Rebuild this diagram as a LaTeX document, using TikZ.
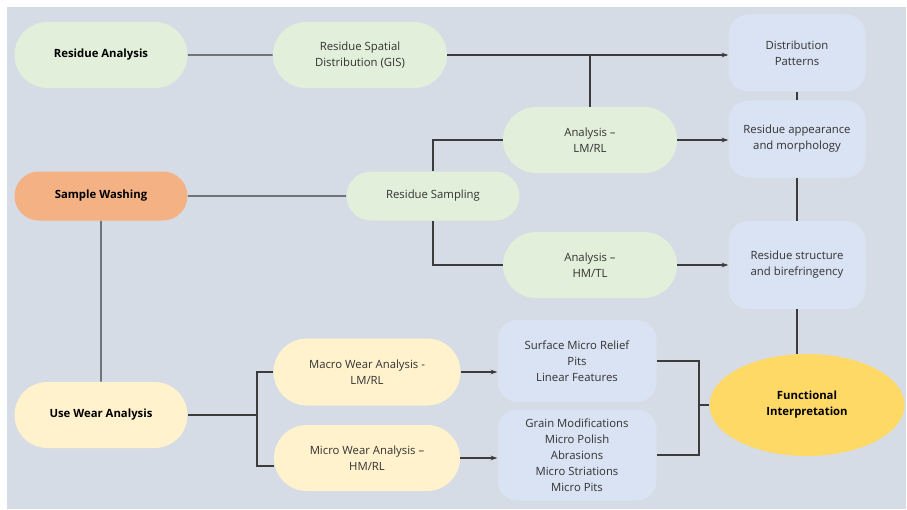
\documentclass[tikz,border=0pt]{standalone}
\usepackage{fontspec}
\setmainfont{Open Sans}
\usetikzlibrary{shapes.misc,shapes.geometric,arrows.meta,calc}
\definecolor{bgpanel}{RGB}{214,220,229}
\definecolor{gfill}{RGB}{226,239,218}
\definecolor{bfill}{RGB}{218,227,243}
\definecolor{yfill}{RGB}{255,242,204}
\definecolor{ofill}{RGB}{244,177,131}
\definecolor{gold}{RGB}{255,217,102}
\definecolor{linec}{RGB}{60,60,60}
\definecolor{txtc}{RGB}{50,50,50}
\def\u{0.75pt}
\tikzset{
  pill/.style={rounded rectangle, draw=none, inner sep=0pt, align=center,
    font=\fontsize{8.5}{12}\selectfont, text=txtc},
  boldpill/.style={pill, font=\fontsize{8.5}{12}\selectfont\bfseries, text=black},
  bluebox/.style={rectangle, rounded corners=15pt, draw=none, fill=bfill, inner sep=0pt,
    align=center, font=\fontsize{8.5}{12}\selectfont, text=txtc},
  conn/.style={draw=linec, line width=0.8pt},
  arr/.style={conn, -{Stealth[length=5pt,width=3.5pt]}},
}
\begin{document}
\begin{tikzpicture}[x=0.75pt,y=-0.75pt]
\useasboundingbox (0,0) rectangle (907,510);
\fill[white] (0,0) rectangle (907,510);
\fill[bgpanel] (7,7) rectangle (906,509);

% left column
\node[boldpill, fill=gfill, minimum width=173*\u, minimum height=66*\u] (RA) at (101,55) {Residue Analysis};
\node[boldpill, fill=ofill, minimum width=173*\u, minimum height=49*\u] (SW) at (101,196) {Sample Washing};
\node[boldpill, fill=yfill, minimum width=173*\u, minimum height=66*\u] (UWA) at (101,415) {Use Wear Analysis};

% residue branch
\node[pill, fill=gfill, minimum width=174*\u, minimum height=66*\u] (RSD) at (360,55) {Residue Spatial\\Distribution (GIS)};
\node[pill, fill=gfill, minimum width=173*\u, minimum height=49*\u] (RS) at (433,196) {Residue Sampling};
\node[pill, fill=gfill, minimum width=174*\u, minimum height=66*\u] (ALM) at (590,140) {Analysis --\\LM/RL};
\node[pill, fill=gfill, minimum width=174*\u, minimum height=66*\u] (AHM) at (590,265) {Analysis --\\HM/TL};

% blue outcome boxes
\node[bluebox, minimum width=137*\u, minimum height=77*\u] (DP) at (797,53) {Distribution\\Patterns};
\node[bluebox, minimum width=137*\u, minimum height=77*\u] (RAM) at (797,139) {Residue appearance\\and morphology};
\node[bluebox, minimum width=137*\u, minimum height=88*\u] (RSB) at (797,265) {Residue structure\\and birefringency};

% wear branch
\node[pill, fill=yfill, minimum width=187*\u, minimum height=67*\u] (MAC) at (367,372) {Macro Wear Analysis -\\LM/RL};
\node[pill, fill=yfill, minimum width=186*\u, minimum height=66*\u] (MIC) at (367,458) {Micro Wear Analysis --\\HM/RL};
\node[bluebox, minimum width=159*\u, minimum height=82*\u] (SMR) at (577,361) {Surface Micro Relief\\Pits\\Linear Features};
\node[bluebox, minimum width=159*\u, minimum height=91*\u] (GM) at (577,455) {Grain Modifications\\Micro Polish\\Abrasions\\Micro Striations\\Micro Pits};

\node[ellipse, fill=gold, draw=none, inner sep=0pt, minimum width=195*\u, minimum height=102*\u,
  align=center, font=\fontsize{8.5}{12}\selectfont\bfseries] (FI) at (807,405) {Functional\\Interpretation};

% helper coordinates
\coordinate (fk) at (257,415);
\coordinate (jn) at (699,405);

% connectors
\draw[conn] (RA) -- (RSD);
\draw[arr] (RSD.east) -- (RSD.east -| DP.west);
\draw[conn] (ALM.north) -- (ALM.north |- RSD.east);
\draw[conn] (SW) -- (RS);
\draw[conn] (RS.north) |- (ALM.west);
\draw[conn] (RS.south) |- (AHM.west);
\draw[arr] (ALM.east) -- (ALM.east -| RAM.west);
\draw[arr] (AHM.east) -- (AHM.east -| RSB.west);
\draw[conn] (DP) -- (RAM);
\draw[conn] (RAM) -- (RSB);
\draw[conn] (RSB.south) -- (RSB.south |- FI.north);
\draw[conn] (SW) -- (UWA);
\draw[conn] (UWA.east) -- (fk);
\draw[conn] (fk) |- (MAC.west);
\draw[conn] (fk) |- ($(MIC.west)+(0,8)$);
\draw[arr] (MAC.east) -- (MAC.east -| SMR.west);
\draw[arr] (MIC.east) -- (MIC.east -| GM.west);
\draw[conn] (SMR.east) -| (jn) |- (GM.east);
\draw[conn] (jn) -- (FI.west);
\end{tikzpicture}
\end{document}
